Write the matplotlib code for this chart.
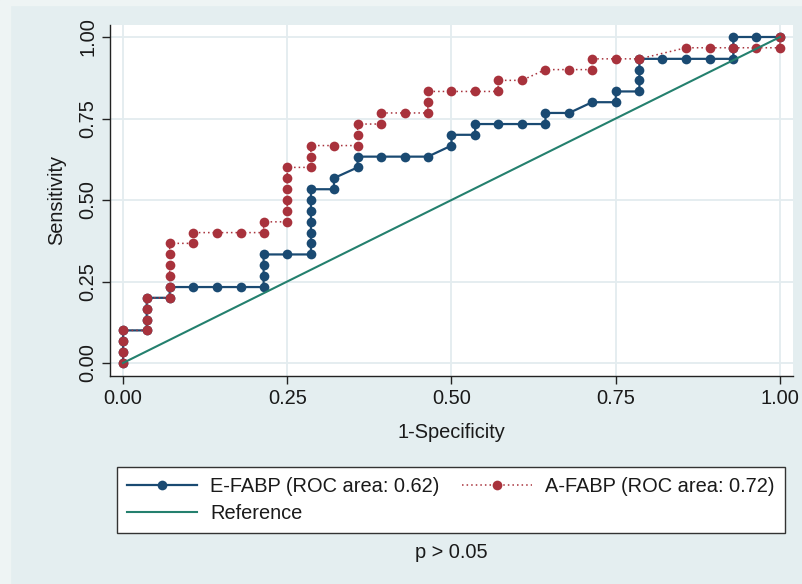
import matplotlib
matplotlib.use("Agg")
import matplotlib.pyplot as plt
from matplotlib.lines import Line2D
from matplotlib.patches import Rectangle

# ---------------- data ----------------
efabp_x = [0, 0, 0, 0, .036, .036, .036, .036, .071, .071,
           .107, .143, .179, .214, .214, .214, .214, .250,
           .286, .286, .286, .286, .286, .286, .286, .321, .321,
           .357, .357, .393, .429, .464, .500, .500, .536, .536,
           .571, .607, .643, .643, .679, .714, .750, .750,
           .786, .786, .786, .786, .821, .857, .893, .929, .929, .929,
           .964, 1.0]
efabp_y = [0, .033, .067, .100, .100, .133, .167, .200, .200, .233,
           .233, .233, .233, .233, .267, .300, .333, .333,
           .333, .367, .400, .433, .467, .500, .533, .533, .567,
           .600, .633, .633, .633, .633, .667, .700, .700, .733,
           .733, .733, .733, .767, .767, .800, .800, .833,
           .833, .867, .900, .933, .933, .933, .933, .933, .967, 1.0,
           1.0, 1.0]

afabp_x = [0, 0, 0, 0, .036, .036, .036, .036,
           .071, .071, .071, .071, .071, .071, .107, .107, .143, .179,
           .214, .214, .250, .250, .250, .250, .250, .250,
           .286, .286, .286, .321, .357, .357, .357, .393, .393, .429,
           .464, .464, .464, .500, .536, .571, .571, .607, .643, .679,
           .714, .714, .750, .786, .857, .893, .929, .964, 1.0, 1.0]
afabp_y = [0, .033, .067, .100, .100, .133, .167, .200,
           .200, .233, .267, .300, .333, .367, .367, .400, .400, .400,
           .400, .433, .433, .467, .500, .533, .567, .600,
           .600, .633, .667, .667, .667, .700, .733, .733, .767, .767,
           .767, .800, .833, .833, .833, .833, .867, .867, .900, .900,
           .900, .933, .933, .933, .967, .967, .967, .967, .967, 1.0]

ref_x = [0, 1]
ref_y = [0, 1]

labels = ["E-FABP (ROC area: 0.62)", "A-FABP (ROC area: 0.72)", "Reference"]
ticks = [0, 0.25, 0.5, 0.75, 1.0]
tick_labels = ["0.00", "0.25", "0.50", "0.75", "1.00"]

# ---------------- style ----------------
BG = "#e4eef0"
BLUE = "#1a4a72"
RED = "#a8323c"
GREEN = "#24806e"
GRID = "#e3ecef"
FS = 14.4

plt.rcParams["font.family"] = ["Liberation Sans", "DejaVu Sans"]

W, H = 803, 584
fig = plt.figure(figsize=(W / 100, H / 100), dpi=100, facecolor=BG)

# light outer border strips
fig.patches.append(Rectangle((0, 1 - 5 / H), 1, 5 / H, transform=fig.transFigure,
                             color="#eef4f4", zorder=-10))
fig.patches.append(Rectangle((0, 0), 10 / W, 1, transform=fig.transFigure,
                             color="#eef4f4", zorder=-10))

L, R, T, B = 110, 793, 25, 376
ax = fig.add_axes([L / W, 1 - B / H, (R - L) / W, (B - T) / H])
ax.set_facecolor("white")

xmin, xmax = -13 / 657, 1 + 13 / 657
ymin, ymax = -13 / 326, 1 + 12 / 326
ax.set_xlim(xmin, xmax)
ax.set_ylim(ymin, ymax)

ax.set_xticks(ticks)
ax.set_xticklabels(tick_labels)
ax.set_yticks(ticks)
ax.set_yticklabels(tick_labels, rotation=90, va="center")
ax.grid(True, color=GRID, linewidth=1.3, zorder=0)
ax.set_axisbelow(True)

for s in ["top", "right"]:
    ax.spines[s].set_visible(False)
for s in ["left", "bottom"]:
    ax.spines[s].set_color("#222222")
    ax.spines[s].set_linewidth(1.0)
ax.tick_params(axis="both", direction="out", length=6, width=1.0,
               color="#222222", labelsize=FS, labelcolor="#1a1a1a", pad=3)

ax.plot(efabp_x, efabp_y, color=BLUE, linewidth=1.6, marker="o",
        markersize=7, markeredgewidth=0, zorder=3, clip_on=False)
ax.plot(afabp_x, afabp_y, color=RED, linewidth=1.1, linestyle=(0, (1, 2)),
        marker="o", markersize=7, markeredgewidth=0, zorder=4, clip_on=False)
ax.plot(ref_x, ref_y, color=GREEN, linewidth=1.5, zorder=5)

ax.set_xlabel("1-Specificity", fontsize=FS, color="#1a1a1a", va="center")
ax.xaxis.set_label_coords(0.5, -(432 - B) / (B - T))
ax.set_ylabel("Sensitivity", fontsize=FS, color="#1a1a1a", va="center")
ax.yaxis.set_label_coords((57 - L) / (R - L), (B - 200) / (B - T))

h_e = Line2D([], [], color=BLUE, linewidth=1.6, marker="o", markersize=7,
             markeredgewidth=0)
h_a = Line2D([], [], color=RED, linewidth=1.1, linestyle=(0, (1, 2)),
             marker="o", markersize=7, markeredgewidth=0)
h_r = Line2D([], [], color=GREEN, linewidth=1.5)
leg = fig.legend([h_e, h_r, h_a], [labels[0], labels[2], labels[1]],
                 ncol=2, loc="upper left",
                 bbox_to_anchor=(117 / W, 1 - 467 / H),
                 bbox_transform=fig.transFigure, borderaxespad=0,
                 fontsize=FS, frameon=True, fancybox=False, shadow=False,
                 handlelength=3.5, handletextpad=0.65, columnspacing=1.15,
                 labelspacing=0.4, borderpad=0.5)
leg.get_frame().set_edgecolor("#333333")
leg.get_frame().set_linewidth(1.0)
leg.get_frame().set_facecolor("white")
leg.get_frame().set_alpha(1)
for t in leg.get_texts():
    t.set_color("#1a1a1a")

fig.text(451 / W, 1 - 553 / H, "p > 0.05", ha="center", va="center",
         fontsize=FS, color="#1a1a1a")

fig.savefig("out.png", dpi=100, facecolor=BG)
